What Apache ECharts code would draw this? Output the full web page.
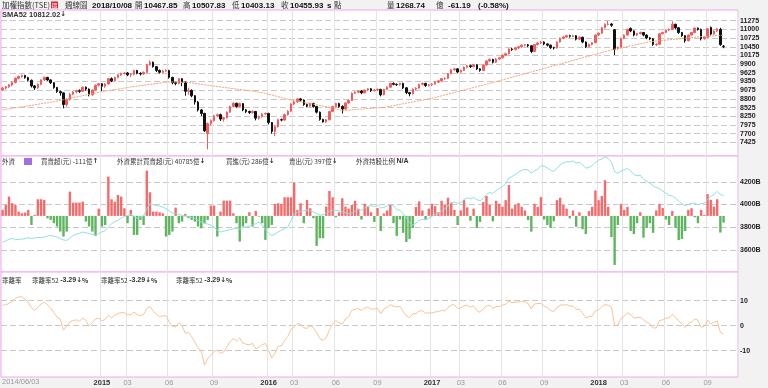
<!DOCTYPE html>
<html><head><meta charset="utf-8">
<script src="https://cdn.jsdelivr.net/npm/echarts@6/dist/echarts.min.js"></script>
<style>html,body{margin:0;padding:0;background:#f2f2f2}#c{width:768px;height:388px}</style>
</head><body><div id="c"></div>
<script>
// ---------- data (weekly TAIEX, 2014/06/03 - 2018/10/08) ----------
const skipWeeks = ['2016/02/08', '2018/02/12'];
const open = [9090,9140,9180,9240,9320,9450,9510,9540,9470,9390,
9210,9150,9260,9400,9480,9400,9310,9160,9030,8990,
8620,8780,8950,9020,9060,9040,9170,9110,8930,9080,
9230,9280,9200,9270,9440,9370,9480,9560,9600,9620,
9560,9580,9700,9610,9590,9640,9880,9960,9820,9700,
9640,9680,9700,9480,9310,9290,9440,9330,9040,9070,
8900,8700,8450,8340,7700,8020,8110,8260,8300,8160,
8200,8380,8560,8660,8560,8650,8450,8400,8370,8400,
8190,8240,8320,8340,8050,7770,7920,8140,8130,8300,
8410,8640,8700,8800,8760,8620,8570,8650,8560,8380,
8150,8070,8140,8400,8560,8650,8560,8480,8670,8750,
8980,9010,9050,8990,9080,9120,9060,9080,9100,8930,
9100,9170,9290,9260,9250,9290,9150,9000,8960,9110,
9140,9260,9290,9220,9250,9270,9330,9370,9440,9450,
9600,9720,9750,9650,9700,9800,9850,9820,9880,9750,
9700,9870,10000,10050,9960,10060,10100,10180,10230,10380,
10360,10410,10450,10500,10510,10480,10300,10520,10570,10600,
10540,10500,10420,10410,10600,10720,10760,10800,10780,10800,
10690,10750,10600,10450,10520,10580,10820,10880,11050,11160,
11170,10990,10400,10420,10720,10820,11030,10950,10820,10870,
10900,10820,10730,10700,10520,10530,10860,10900,10980,11000,
11160,11050,10900,10800,10640,10820,10900,11040,11000,10700,
10750,11060,10850,10950,11000,10467.85];
const close = [9140,9180,9240,9320,9450,9510,9540,9470,9390,9210,
9150,9260,9400,9480,9400,9310,9160,9030,8990,8620,
8780,8950,9020,9060,9040,9170,9110,8930,9080,9230,
9280,9200,9270,9440,9370,9480,9560,9600,9620,9560,
9580,9700,9610,9590,9640,9880,9960,9820,9700,9640,
9680,9700,9480,9310,9290,9440,9330,9040,9070,8900,
8700,8450,8340,7790,8020,8110,8260,8300,8160,8200,
8380,8560,8660,8560,8650,8450,8400,8370,8400,8190,
8240,8320,8340,8050,7770,7920,8140,8130,8300,8410,
8640,8700,8800,8760,8620,8570,8650,8560,8380,8150,
8070,8140,8400,8560,8650,8560,8480,8670,8750,8980,
9010,9050,8990,9080,9120,9060,9080,9100,8930,9100,
9170,9290,9260,9250,9290,9150,9000,8960,9110,9140,
9260,9290,9220,9250,9270,9330,9370,9440,9450,9600,
9720,9750,9650,9700,9800,9850,9820,9880,9750,9700,
9870,10000,10050,9960,10060,10100,10180,10230,10380,10360,
10410,10450,10500,10510,10480,10300,10520,10570,10600,10540,
10500,10420,10410,10600,10720,10760,10800,10780,10800,10690,
10750,10600,10450,10520,10580,10820,10880,11050,11160,11170,
11130,10370,10420,10720,10820,11000,10950,10820,10870,10900,
10820,10730,10700,10520,10530,10860,10900,10980,11000,11160,
11050,10900,10800,10640,10820,10900,11040,11000,10700,10750,
11020,10850,10950,11010,10517.12,10455.93];
const low = [9050,9100,9150,9200,9290,9420,9470,9440,9350,9160,
9080,9120,9230,9370,9370,9270,9120,8990,8900,8500,
8560,8750,8920,8980,8990,9020,9060,8880,8900,9060,
9190,9050,9150,9250,9330,9350,9450,9530,9570,9520,
9490,9550,9580,9540,9560,9620,9850,9790,9650,9600,
9600,9640,9440,9260,9230,9260,9200,8900,8930,8850,
8620,8400,8260,7750,7203,7950,8080,8220,8100,8080,
8180,8360,8530,8520,8530,8410,8350,8320,8330,8120,
8140,8210,8290,7990,7700,7627,7890,8090,8110,8270,
8390,8600,8680,8720,8580,8530,8540,8520,8340,8110,
8050,8040,8120,8380,8530,8520,8340,8450,8640,8730,
8950,8980,8950,8970,9050,9020,9030,9050,8880,8910,
9080,9150,9230,9210,9220,9110,8950,8880,8940,9080,
9120,9230,9180,9190,9210,9250,9300,9340,9400,9430,
9580,9690,9610,9630,9680,9770,9780,9800,9710,9660,
9680,9850,9970,9920,9940,10030,10080,10150,10200,10320,
10330,10380,10420,10460,10440,10250,10280,10490,10540,10500,
10460,10380,10360,10390,10580,10690,10730,10740,10750,10650,
10660,10560,10410,10430,10490,10560,10790,10860,11030,11120,
11080,10189,10350,10400,10690,10800,10910,10780,10790,10840,
10780,10690,10660,10480,10470,10510,10840,10880,10950,10980,
11000,10860,10760,10580,10620,10800,10880,10960,10650,10680,
10730,10810,10830,10920,10480,10403.13];
const high = [9180,9210,9270,9350,9480,9540,9570,9560,9500,9410,
9240,9290,9420,9510,9500,9420,9330,9180,9060,9000,
8810,8980,9050,9090,9100,9190,9190,9130,9100,9260,
9300,9300,9300,9460,9480,9500,9580,9630,9650,9650,
9610,9720,9720,9640,9670,9900,10014,9980,9840,9730,
9720,9740,9720,9500,9350,9460,9450,9350,9150,9100,
8920,8730,8480,8360,8050,8150,8290,8330,8330,8230,
8400,8590,8690,8680,8680,8670,8480,8430,8440,8420,
8270,8350,8370,8360,8070,7950,8170,8180,8330,8440,
8660,8740,8830,8830,8780,8650,8680,8680,8580,8400,
8170,8170,8420,8580,8680,8680,8600,8690,8780,9000,
9040,9080,9080,9100,9140,9140,9110,9130,9120,9120,
9200,9310,9320,9290,9310,9310,9170,9020,9130,9170,
9280,9320,9310,9270,9300,9360,9400,9460,9480,9620,
9750,9780,9770,9730,9830,9870,9880,9910,9900,9770,
9890,10030,10080,10070,10090,10130,10210,10260,10400,10420,
10440,10480,10530,10540,10540,10500,10540,10600,10630,10620,
10560,10520,10450,10620,10740,10790,10830,10830,10830,10820,
10780,10770,10620,10550,10600,10840,10900,11080,11190,11270,
11200,11010,10460,10740,10840,11020,11060,10970,10890,10930,
10920,10840,10760,10720,10560,10880,10930,11000,11030,11250,
11180,11070,10920,10820,10840,10920,11060,11060,11020,10780,
11040,11090,10970,11040,11050,10507.83];
const sma52 = [8450,8466,8482,8499,8515,8531,8547,8564,8580,8596,
8612,8629,8645,8661,8677,8694,8710,8731,8753,8774,
8795,8817,8838,8859,8881,8902,8923,8945,8966,8987,
9009,9030,9046,9062,9078,9094,9110,9126,9142,9158,
9174,9190,9204,9217,9231,9245,9258,9272,9285,9299,
9313,9326,9340,9337,9333,9330,9327,9323,9320,9306,
9291,9277,9262,9248,9233,9219,9204,9190,9177,9164,
9151,9138,9125,9112,9099,9086,9073,9060,9045,9030,
9015,9000,8974,8948,8922,8896,8870,8843,8817,8791,
8765,8746,8727,8708,8688,8669,8650,8631,8612,8592,
8573,8554,8535,8509,8483,8456,8430,8438,8445,8453,
8461,8468,8476,8484,8492,8499,8507,8515,8522,8530,
8549,8569,8588,8607,8627,8646,8665,8685,8704,8723,
8743,8762,8781,8801,8820,8846,8872,8898,8924,8951,
8977,9003,9029,9055,9081,9107,9133,9160,9186,9212,
9238,9264,9290,9318,9346,9374,9402,9430,9457,9485,
9513,9541,9569,9597,9625,9653,9681,9709,9737,9765,
9793,9820,9848,9876,9904,9932,9960,9988,10016,10044,
10071,10099,10127,10155,10183,10211,10239,10267,10294,10322,
10350,10372,10393,10415,10437,10458,10480,10502,10523,10545,
10567,10588,10610,10620,10630,10640,10650,10660,10670,10680,
10690,10700,10710,10720,10730,10740,10750,10760,10770,10776,
10782,10788,10794,10800,10806,10812.02];
// foreign investors weekly net buy/sell (億)
const foreignNet = [99,180,320,210,180,70,44,55,99,-150,
16,275,275,264,-40,-66,-121,-176,-259,-341,
-259,401,220,220,220,236,-94,-176,-259,-330,
120,-176,-150,649,275,236,346,319,126,-121,
99,-314,-314,-66,-150,748,390,71,71,60,
44,-341,-314,-259,137,-121,-94,33,-39,-66,
-94,-176,-204,-121,-66,170,170,-341,71,253,
253,253,44,-121,-424,-176,-121,60,-176,82,
-11,-121,-396,-204,-149,198,209,198,308,308,
308,550,99,209,-121,264,126,-39,-495,-369,
-369,154,413,308,-22,60,291,154,120,180,
250,120,-60,200,150,60,-100,130,-250,40,
90,180,-120,-330,-60,-280,-430,-380,-200,150,
240,90,-60,120,200,160,60,250,180,300,
220,100,-150,90,260,140,-80,120,-200,-100,
230,330,180,-90,250,200,150,260,510,120,
180,210,150,90,-70,-260,200,150,310,-60,
-150,-200,-90,260,300,180,120,-40,90,-180,
60,-220,-300,80,150,420,260,330,590,150,
-350,-810,-150,200,100,150,-250,-300,-120,60,
-360,-200,-120,-280,90,200,130,-60,-150,80,
-200,-400,-380,-250,100,126,-22,-121,99,16,
358,264,154,275,-275,-111];
// foreign cumulative net buy (B = 10億)
const foreignCum = [3669,3680,3695,3702,3690,3694,3696,3700,3708,3702,
3705,3712,3708,3716,3722,3728,3722,3714,3700,3688,
3684,3705,3728,3740,3748,3758,3752,3745,3738,3732,
3745,3760,3770,3802,3830,3850,3861,3880,3895,3905,
3912,3898,3880,3891,3900,3960,4008,3998,3990,3985,
3978,3964,3945,3925,3920,3912,3905,3898,3891,3885,
3875,3862,3846,3835,3828,3820,3802,3772,3758,3765,
3772,3780,3787,3790,3785,3795,3802,3810,3820,3832,
3846,3820,3780,3750,3728,3740,3760,3775,3790,3802,
3860,3920,3930,3940,3945,3950,3945,3935,3920,3905,
3910,3925,3940,3950,3948,3945,3935,3928,3920,3925,
3940,3955,3950,3970,3985,3990,3980,3995,3970,3975,
3985,4000,3990,3955,3950,3920,3880,3840,3820,3835,
3860,3870,3865,3877,3897,3913,3919,3944,3962,3992,
4014,4024,4009,4018,4044,4058,4050,4062,4042,4032,
4055,4088,4106,4097,4122,4142,4157,4183,4234,4246,
4264,4285,4300,4309,4302,4276,4296,4311,4342,4336,
4321,4301,4292,4318,4348,4366,4378,4374,4383,4365,
4371,4349,4319,4327,4342,4370,4390,4400,4420,4405,
4370,4289,4274,4294,4304,4319,4294,4264,4252,4258,
4222,4202,4190,4162,4150,4140,4120,4100,4080,4075,
4055,4030,4005,3990,4000,4012,4010,3998,4008,4010,
4046,4072,4087,4115,4089,4078.5];
// 乖離率52 (%)
const bias52 = [8.2,8.4,8.9,9.7,11.0,11.5,11.6,10.6,9.4,7.1,
6.2,7.3,8.7,9.5,8.3,7.1,5.2,3.4,2.7,-1.8,
-0.2,1.5,2.1,2.3,1.8,3.0,2.1,-0.2,1.3,2.7,
3.0,1.9,2.5,4.2,3.2,4.2,4.9,5.2,5.2,4.4,
4.4,5.5,4.4,4.0,4.4,6.9,7.6,5.9,4.5,3.7,
3.9,4.0,1.5,-0.3,-0.5,1.2,0.0,-3.0,-2.7,-4.4,
-6.4,-8.9,-10.0,-15.8,-13.1,-12.0,-10.3,-9.7,-11.1,-10.5,
-8.4,-6.3,-5.1,-6.1,-4.9,-7.0,-7.4,-7.6,-7.1,-9.3,
-8.6,-7.6,-7.1,-10.0,-12.9,-11.0,-8.2,-8.1,-5.9,-4.3,
-1.4,-0.5,0.8,0.6,-0.8,-1.1,0.0,-0.8,-2.7,-5.1,
-5.9,-4.8,-1.6,0.6,2.0,1.2,0.6,2.7,3.6,6.2,
6.5,6.9,6.1,7.0,7.4,6.6,6.7,6.9,4.8,6.7,
7.3,8.4,7.8,7.5,7.7,5.8,3.9,3.2,4.7,4.8,
5.9,6.0,5.0,5.1,5.1,5.5,5.6,6.1,5.9,7.3,
8.3,8.3,6.9,7.1,7.9,8.2,7.5,7.9,6.1,5.3,
6.8,7.9,8.2,6.9,7.6,7.7,8.3,8.5,9.8,9.2,
9.4,9.5,9.7,9.5,8.9,6.7,8.7,8.9,8.9,7.9,
7.2,6.1,5.7,7.3,8.2,8.3,8.4,7.9,7.8,6.4,
6.7,5.0,3.2,3.6,3.9,6.0,6.3,7.6,8.4,8.2,
7.5,0.0,0.3,2.9,3.7,5.2,4.5,3.0,3.3,3.4,
2.4,1.3,0.8,-0.9,-0.9,2.1,2.3,3.0,3.1,4.5,
3.4,1.9,0.8,-0.7,0.8,1.5,2.7,2.2,-0.6,-0.2,
2.2,0.6,1.4,1.9,-2.7,-3.29];
const priceTicks = {min: 7150, max: 11550, step: 275};
const foreignTicks = {min: 3400, max: 4400, step: 200};
const biasTicks = {min: -20, max: 20, step: 10};
const monthLabels = [3, 6, 9];
const firstLabelYear = 2015;
const lastVolume = '1268.74', lastChange = '-61.19', lastChangePct = '(-0.58%)';
const foreignBuy = 286, foreignSell = 397;

// ---------- categories (weekly) ----------
const cats = [], ym = [];
const t0 = Date.UTC(2014, 5, 2);
const p2 = n => (n < 10 ? '0' : '') + n;
for (let w = 0; w < 228; w++) {
  const d = new Date(t0 + w * 7 * 86400000);
  const s = d.getUTCFullYear() + '/' + p2(d.getUTCMonth() + 1) + '/' + p2(d.getUTCDate());
  if (skipWeeks.includes(s)) continue;
  cats.push(s); ym.push([d.getUTCFullYear(), d.getUTCMonth() + 1]);
}
cats[0] = '2014/06/03';
const N = cats.length;
for (let k = 1; k <= 4; k++) { cats.push('pad' + k); ym.push(null); }
const kind = cats.map((c, i) => {
  if (i === 0 || !ym[i] || !ym[i - 1] || ym[i][0] < firstLabelYear) return '';
  if (ym[i][0] !== ym[i - 1][0]) return 'y';
  if (ym[i][1] !== ym[i - 1][1] && monthLabels.includes(ym[i][1])) return 'm';
  return '';
});
const isTick = (i) => kind[i] !== '';

// ---------- layout ----------
const L = 1, R = 30;
const PINK = '#f0a8ee';
const frame = (top, height) => ({left: L, right: R, top, height, show: true, backgroundColor: '#fff', borderColor: PINK, borderWidth: 1});
const grids = [frame(10, 146), frame(156, 116), frame(272, 105),
  {left: L, right: R, top: 12, height: 139},
  {left: L, right: R, top: 159, height: 113.8},
  {left: L, right: R, top: 275.7, height: 100}];
const vsplit = {show: true, interval: (i) => isTick(i), lineStyle: {color: '#e4e4e4', width: 1}};
const xAxes = grids.map((g, gi) => ({
  type: 'category', gridIndex: gi, data: cats, boundaryGap: true,
  axisLine: {show: false}, axisTick: {show: false},
  splitLine: gi < 3 ? vsplit : {show: false},
  axisLabel: gi === 2 ? {
    show: true, interval: (i) => isTick(i), margin: 2,
    formatter: (v, i) => kind[i] === 'y' ? '{y|' + v.slice(0, 4) + '}' : (kind[i] === 'm' ? '{m|' + v.slice(5, 7) + '}' : ''),
    rich: {y: {fontFamily: 'Liberation Sans', fontWeight: 'bold', fontSize: 7.5, color: '#333'},
           m: {fontFamily: 'Liberation Sans', fontSize: 7.5, color: '#999'}}
  } : {show: false}
}));
const lab = (suffix) => ({fontFamily: 'Liberation Sans', fontWeight: 'bold', fontSize: 7, color: '#222', margin: 2,
  showMinLabel: false, showMaxLabel: false, formatter: (v) => String(v) + suffix});
const hsplit = {show: true, showMinLine: false, showMaxLine: false, lineStyle: {color: '#c8c8c8', type: [6, 3], width: 1}};
const hidden = (gi) => ({type: 'value', gridIndex: gi, show: false, min: 0, max: 1, splitLine: {show: false}});
const yAxes = [hidden(0), hidden(1), hidden(2),
  {type: 'value', gridIndex: 3, position: 'right', min: priceTicks.min, max: priceTicks.max, interval: priceTicks.step,
   axisLine: {show: false}, axisTick: {show: false}, axisLabel: lab(''), splitLine: hsplit},
  {type: 'value', gridIndex: 4, position: 'right', min: foreignTicks.min, max: foreignTicks.max, interval: foreignTicks.step,
   axisLine: {show: false}, axisTick: {show: false}, axisLabel: lab('B'), splitLine: hsplit},
  {type: 'value', gridIndex: 4, show: false, min: -940, max: 940, splitLine: {show: false}},
  {type: 'value', gridIndex: 5, position: 'right', min: biasTicks.min, max: biasTicks.max, interval: biasTicks.step,
   axisLine: {show: false}, axisTick: {show: false}, axisLabel: lab(''), splitLine: hsplit}];

const candles = open.map((o, i) => [o, close[i], low[i], high[i]]);
const last = N - 1;

// ---------- text ----------
const CJK = '"Noto Sans CJK TC"';
const B8 = 'bold 8px "Liberation Sans"';
const C8 = '7.5px ' + CJK;
const T = (x, y, text, fill, font) => ({type: 'text', x, y, silent: true, z: 100,
  style: {text, fill, font, textVerticalAlign: 'middle', verticalAlign: 'middle'}});
const RT = (x, y, text, rich) => ({type: 'text', x, y, silent: true, z: 100,
  style: {text, rich, textVerticalAlign: 'middle', verticalAlign: 'middle', fill: '#333', font: '6.5px ' + CJK}});
const rs = (color, extra) => Object.assign({color, fontSize: 6.5, fontFamily: 'Noto Sans CJK TC'}, extra || {});
const arrowDn = {color: '#0a8a0a', fontSize: 7, fontWeight: 'bold', fontFamily: 'DejaVu Sans'};
const arrowUp = {color: '#e00000', fontSize: 7, fontWeight: 'bold', fontFamily: 'DejaVu Sans'};
const biasTxt = bias52[last].toFixed(2);
const biasGroup = (x, color) => RT(x, 280.5, '{a|乖離率52 }{b|' + biasTxt + '}{c|↓}{d|%}',
  {a: rs(color), b: rs(color, {fontWeight: 'bold', fontFamily: 'Liberation Sans', fontSize: 7}), c: arrowDn, d: rs(color, {fontWeight: 'bold'})});

const graphics = [
  T(2, 5.5, '加權指數(TSE)', '#333', C8),
  {type: 'rect', silent: true, z: 100, shape: {x: 51, y: 1.5, width: 7, height: 7}, style: {fill: '#d9262b'}},
  T(51.5, 5.5, '還', '#fff', '6px ' + CJK),
  T(65, 5.5, '週線圖', '#333', C8),
  T(92, 5.5, cats[last], '#111', B8),
  T(135, 5.5, '開', '#333', C8), T(144, 5.5, open[last].toFixed(2), '#111', B8),
  T(183, 5.5, '高', '#333', C8), T(192, 5.5, high[last].toFixed(2), '#111', B8),
  T(232, 5.5, '低', '#333', C8), T(241, 5.5, low[last].toFixed(2), '#111', B8),
  T(281, 5.5, '收', '#333', C8), T(290, 5.5, close[last].toFixed(2), '#111', B8),
  T(327, 5.5, 's', '#111', B8), T(334, 5.5, '點', '#333', C8),
  T(387, 5.5, '量', '#333', C8), T(396, 5.5, lastVolume, '#111', B8),
  T(436, 5.5, '億', '#333', C8), T(448, 5.5, lastChange, '#111', B8), T(478, 5.5, lastChangePct, '#111', B8),
  RT(2, 14.5, '{a|SMA52 ' + sma52[last].toFixed(2) + '}{c|↓}',
    {a: {color: '#f07a28', fontWeight: 'bold', fontSize: 7.5, fontFamily: 'Liberation Sans'}, c: arrowDn}),
  T(2, 161.5, '外資', '#333', '6.5px ' + CJK),
  {type: 'rect', silent: true, z: 100, shape: {x: 24, y: 158, width: 8, height: 7}, style: {fill: '#a070e0'}},
  RT(41, 161.5, '{a|買賣超(元) }{b|' + foreignNet[last] + '億}{c|↑}', {a: rs('#f06c8c'), b: rs('#f06c8c'), c: arrowUp}),
  RT(117, 161.5, '{a|外資累計買賣超(元) }{b|' + Math.round(foreignCum[last] * 10) + '億}{c|↓}', {a: rs('#48c8c8'), b: rs('#48c8c8'), c: arrowDn}),
  RT(226, 161.5, '{a|買進(元) }{b|' + foreignBuy + '億}{c|↓}', {a: rs('#f3a43c'), b: rs('#f3a43c'), c: arrowDn}),
  RT(289, 161.5, '{a|賣出(元) }{b|' + foreignSell + '億}{c|↓}', {a: rs('#4a86c6'), b: rs('#4a86c6'), c: arrowDn}),
  RT(356, 161.5, '{a|外資持股比例 }{b|N/A}', {a: rs('#9ccc3c'), b: rs('#9ccc3c', {fontWeight: 'bold', fontFamily: 'Liberation Sans', fontSize: 7})}),
  T(2, 280.5, '乖離率', '#333', '6.5px ' + CJK),
  biasGroup(32, '#ff7fa6'), biasGroup(101, '#3fcfcf'), biasGroup(176, '#ffa040'),
  T(2, 382, cats[0], '#999', '7.5px "Liberation Sans"')
];

const chart = echarts.init(document.getElementById('c'), null, {renderer: 'canvas', width: 768, height: 388});
chart.setOption({
  animation: false,
  backgroundColor: '#f2f2f2',
  grid: grids, xAxis: xAxes, yAxis: yAxes,
  graphic: graphics,
  series: [
    {type: 'candlestick', xAxisIndex: 3, yAxisIndex: 3, data: candles, barWidth: 2,
     itemStyle: {color: '#f45c5c', color0: '#111', borderColor: '#f45c5c', borderColor0: '#111', borderWidth: 1}},
    {type: 'line', xAxisIndex: 3, yAxisIndex: 3, data: sma52, showSymbol: false, symbol: 'none',
     lineStyle: {color: '#f5a070', width: 1, type: [2, 1]}},
    {type: 'bar', xAxisIndex: 4, yAxisIndex: 5, data: foreignNet, barWidth: 2.4,
     itemStyle: {color: (p) => p.value >= 0 ? '#f56a6a' : '#5fb55f'}},
    {type: 'line', xAxisIndex: 4, yAxisIndex: 4, data: foreignCum, showSymbol: false, symbol: 'none', clip: false, z: 5,
     lineStyle: {color: '#8fe0e0', width: 1}},
    {type: 'line', xAxisIndex: 5, yAxisIndex: 6, data: bias52, showSymbol: false, symbol: 'none',
     lineStyle: {color: '#f7c39a', width: 1}}
  ]
});
</script></body></html>
